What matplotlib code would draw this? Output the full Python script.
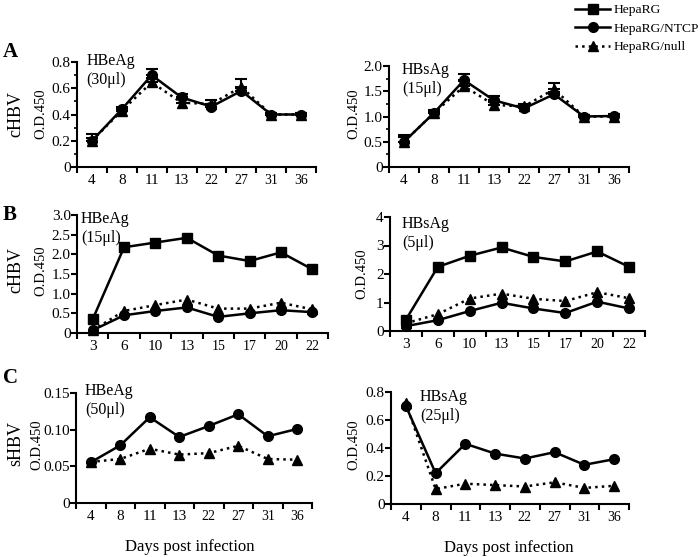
import numpy as np
import matplotlib
matplotlib.use("Agg")
import matplotlib.pyplot as plt
from matplotlib.lines import Line2D

plt.rcParams['font.family'] = ['Liberation Serif', 'DejaVu Serif']

days_a = ["4", "8", "11", "13", "22", "27", "31", "36"]
days_b = ["3", "6", "10", "13", "15", "17", "20", "22"]

# A: cHBV
a_hbe_ntcp = [0.20, 0.44, 0.70, 0.53, 0.46, 0.58, 0.40, 0.40]
a_hbe_ntcp_err = [0.05, 0.02, 0.05, 0.03, 0.02, 0.02, 0.01, 0.01]
a_hbe_null = [0.20, 0.43, 0.645, 0.49, 0.48, 0.61, 0.40, 0.40]
a_hbe_null_err = [0.02, 0.02, 0.03, 0.03, 0.03, 0.06, 0.01, 0.01]
a_hbs_ntcp = [0.50, 1.07, 1.72, 1.32, 1.16, 1.44, 1.00, 1.01]
a_hbs_ntcp_err = [0.14, 0.05, 0.13, 0.08, 0.04, 0.05, 0.03, 0.03]
a_hbs_null = [0.50, 1.07, 1.60, 1.23, 1.20, 1.54, 1.00, 1.00]
a_hbs_null_err = [0.10, 0.04, 0.10, 0.05, 0.05, 0.13, 0.03, 0.03]

# B: cHBV
b_hbe_hepa = [0.35, 2.18, 2.30, 2.42, 1.97, 1.83, 2.05, 1.62]
b_hbe_ntcp = [0.07, 0.45, 0.56, 0.65, 0.41, 0.50, 0.58, 0.53]
b_hbe_null = [0.07, 0.56, 0.71, 0.85, 0.62, 0.62, 0.77, 0.60]
b_hbs_hepa = [0.40, 2.25, 2.64, 2.93, 2.60, 2.44, 2.79, 2.25]
b_hbs_ntcp = [0.17, 0.38, 0.70, 0.99, 0.79, 0.63, 1.03, 0.79]
b_hbs_null = [0.27, 0.59, 1.14, 1.31, 1.13, 1.05, 1.36, 1.15]

# C: sHBV
c_hbe_ntcp = [0.0555, 0.0786, 0.117, 0.090, 0.105, 0.121, 0.091, 0.101]
c_hbe_null = [0.056, 0.060, 0.074, 0.066, 0.068, 0.078, 0.060, 0.059]
c_hbs_ntcp = [0.70, 0.22, 0.43, 0.36, 0.325, 0.37, 0.28, 0.32]
c_hbs_null = [0.72, 0.107, 0.145, 0.135, 0.125, 0.155, 0.115, 0.13]

W, H = 700, 557
fig = plt.figure(figsize=(7.0, 5.57), dpi=100)

def px_ax(x0, x1, y0, y1):
    return fig.add_axes([x0 / W, 1 - y1 / H, (x1 - x0) / W, (y1 - y0) / H])

def style(ax, cats, yticks, ylabels, ymax, minor=None):
    n = len(cats)
    ax.set_xlim(-0.5, n - 0.5)
    ax.set_ylim(0, ymax)
    # labels sit between the tick marks
    ax.set_xticks(np.arange(n), minor=True)
    ax.set_xticklabels(cats, minor=True, fontsize=11)
    ax.set_xticks(np.arange(n + 1) - 0.5)
    ax.set_xticklabels([])
    ax.tick_params(axis='x', which='major', length=4, width=1.5, direction='out')
    ax.tick_params(axis='x', which='minor', length=0, pad=5)
    ax.set_yticks(yticks)
    ax.set_yticklabels(ylabels, fontsize=11)
    if minor is not None:
        ax.set_yticks(minor, minor=True)
    ax.tick_params(axis='y', which='major', length=4, width=1.5, pad=0.5)
    ax.tick_params(axis='y', which='minor', length=2.5, width=1.2)
    for s in ['top', 'right']:
        ax.spines[s].set_visible(False)
    for s in ['left', 'bottom']:
        ax.spines[s].set_linewidth(1.5)

def plot_sq(ax, y):
    ax.plot(range(len(y)), y, '-', color='black', lw=1.8, marker='s', ms=6.5, clip_on=False, zorder=4)

def plot_ci(ax, y, err=None):
    x = np.arange(len(y))
    if err is not None:
        ax.errorbar(x, y, yerr=[np.zeros(len(y)), err], fmt='none', ecolor='black', elinewidth=1.5, capsize=4, capthick=1.5, zorder=3)
    ax.plot(x, y, '-', color='black', lw=1.8, marker='o', ms=7, clip_on=False, zorder=5)

def plot_tr(ax, y, err=None):
    x = np.arange(len(y))
    if err is not None:
        ax.errorbar(x, y, yerr=[np.zeros(len(y)), err], fmt='none', ecolor='black', elinewidth=1.5, capsize=4, capthick=1.5, zorder=3)
    ax.plot(x, y, ':', color='black', lw=1.8, marker='^', ms=7, clip_on=False, zorder=4)

def label(ax, txt, x, y):
    ax.text(x, y, txt, transform=ax.transAxes, ha='left', va='top', fontsize=11.5, linespacing=1.25)

# Row A
ax = px_ax(77, 316, 62, 167)
plot_tr(ax, a_hbe_null, a_hbe_null_err)
plot_ci(ax, a_hbe_ntcp, a_hbe_ntcp_err)
style(ax, days_a, [0, 0.2, 0.4, 0.6, 0.8], ["0", "0.2", "0.4", "0.6", "0.8"], 0.8, [0.1, 0.3, 0.5, 0.7])
label(ax, "HBeAg\n(30\u03bcl)", 0.04, 1.09)

ax = px_ax(389, 629, 66, 167)
plot_tr(ax, a_hbs_null, a_hbs_null_err)
plot_ci(ax, a_hbs_ntcp, a_hbs_ntcp_err)
style(ax, days_a, [0, 0.5, 1.0, 1.5, 2.0], ["0", "0.5", "1.0", "1.5", "2.0"], 2.0, [0.25, 0.75, 1.25, 1.75])
label(ax, "HBsAg\n(15\u03bcl)", 0.054, 1.04)

# Row B
ax = px_ax(77, 328, 215, 333)
plot_sq(ax, b_hbe_hepa)
plot_tr(ax, b_hbe_null)
plot_ci(ax, b_hbe_ntcp)
style(ax, days_b, [0, 0.5, 1.0, 1.5, 2.0, 2.5, 3.0], ["0", "0.5", "1.0", "1.5", "2.0", "2.5", "3.0"], 3.0)
label(ax, "HBeAg\n(15\u03bcl)", 0.015, 1.03)

ax = px_ax(390, 645, 217, 331)
plot_sq(ax, b_hbs_hepa)
plot_tr(ax, b_hbs_null)
plot_ci(ax, b_hbs_ntcp)
style(ax, days_b, [0, 1, 2, 3, 4], ["0", "1", "2", "3", "4"], 4)
label(ax, "HBsAg\n(5\u03bcl)", 0.047, 1.01)

# Row C
ax = px_ax(76, 312, 393, 503)
plot_tr(ax, c_hbe_null)
plot_ci(ax, c_hbe_ntcp)
style(ax, days_a, [0, 0.05, 0.10, 0.15], ["0", "0.05", "0.10", "0.15"], 0.15)
label(ax, "HBeAg\n(50\u03bcl)", 0.038, 1.09)

ax = px_ax(391, 629, 392, 504)
plot_tr(ax, c_hbs_null)
plot_ci(ax, c_hbs_ntcp)
style(ax, days_a, [0, 0.2, 0.4, 0.6, 0.8], ["0", "0.2", "0.4", "0.6", "0.8"], 0.8)
label(ax, "HBsAg\n(25\u03bcl)", 0.122, 1.03)

# outer labels
def ftext(x, y, s, **kw):
    fig.text(x / W, 1 - y / H, s, ha='center', va='center', **kw)

for y, s in [(52, "A"), (215, "B"), (378, "C")]:
    ftext(10, y, s, fontsize=15, fontweight='bold')
for y, s in [(114, "cHBV"), (270, "cHBV"), (443, "sHBV")]:
    ftext(16, y, s, fontsize=13, rotation=90)
for x, y in [(41, 114), (354, 114), (41, 271), (362, 274), (37, 445), (354, 445)]:
    ftext(x, y, "O.D.450", fontsize=10.5, rotation=90)
ftext(190, 547, "Days post infection", fontsize=12)
ftext(509, 548, "Days post infection", fontsize=12)

handles = [
    Line2D([], [], color='black', lw=1.8, marker='s', ms=6.5),
    Line2D([], [], color='black', lw=1.8, marker='o', ms=7),
    Line2D([], [], color='black', lw=1.8, ls=':', marker='^', ms=7),
]
fig.legend(handles, ["HepaRG", "HepaRG/NTCP", "HepaRG/null"], loc='upper left',
           bbox_to_anchor=(575 / W, 1 - 4 / H), frameon=False, fontsize=9.7,
           handlelength=2.6, handletextpad=0.3, labelspacing=0.45,
           borderpad=0, borderaxespad=0)

fig.savefig("out.png", dpi=100)
